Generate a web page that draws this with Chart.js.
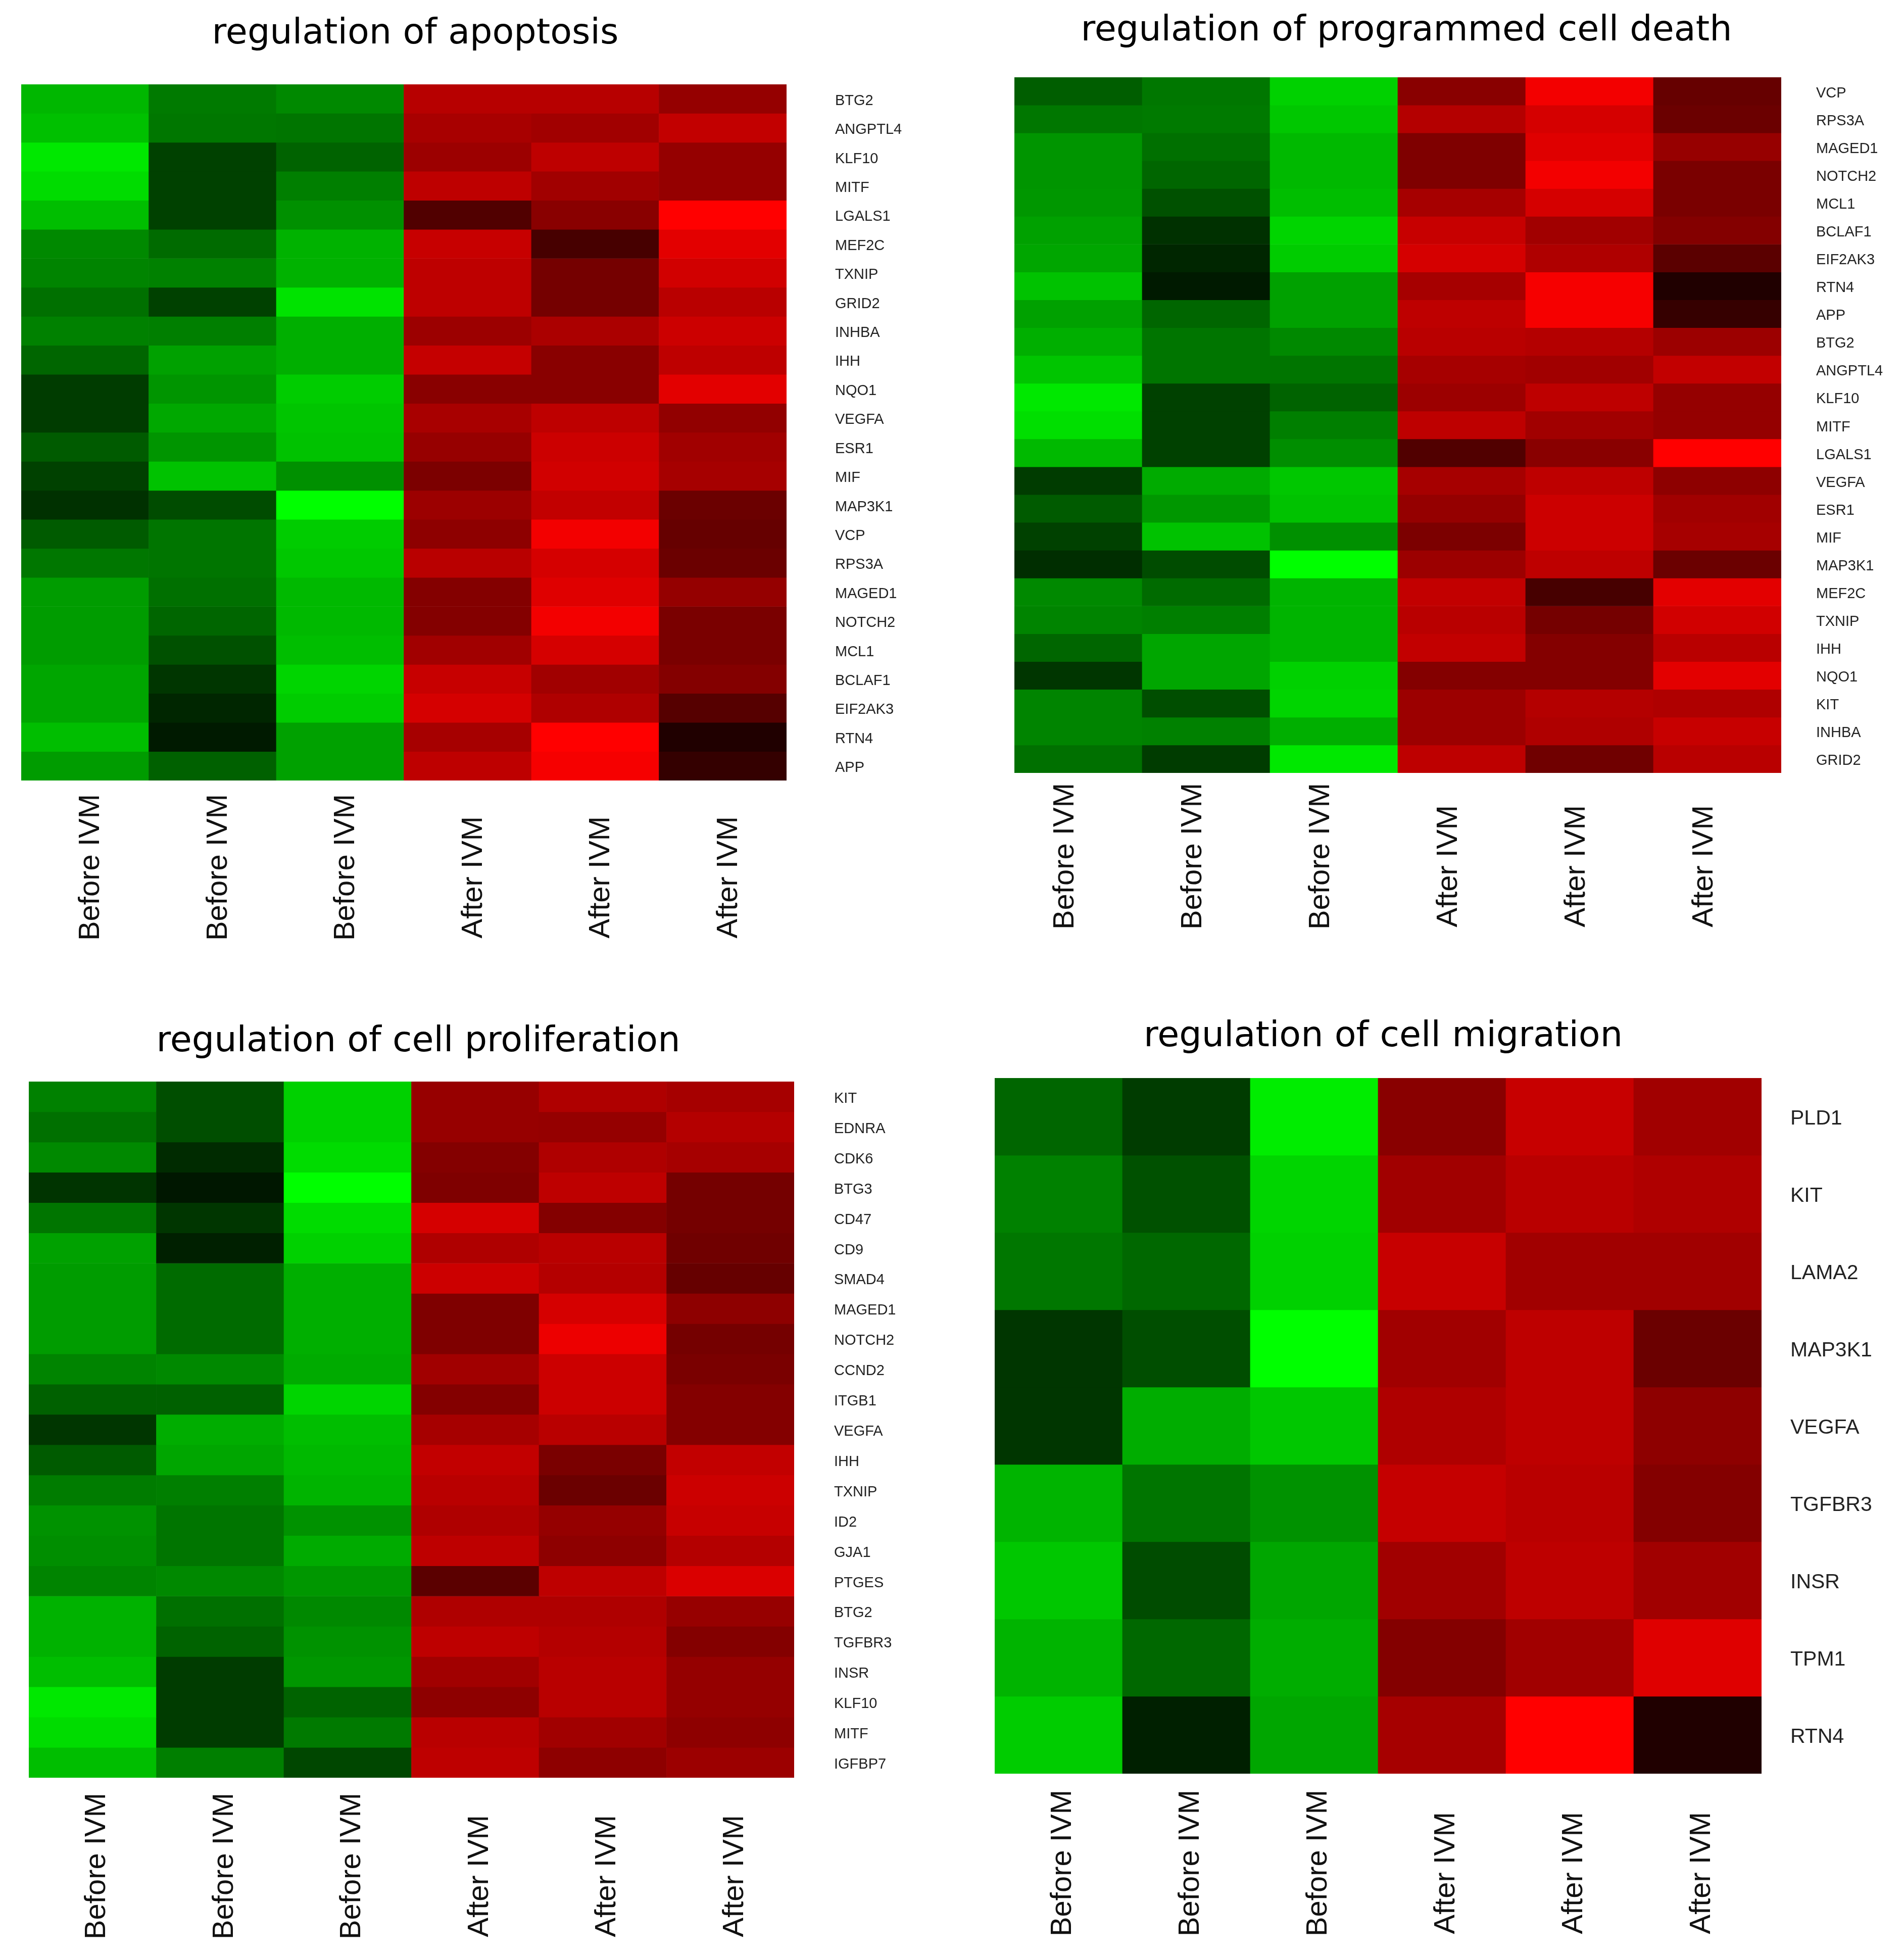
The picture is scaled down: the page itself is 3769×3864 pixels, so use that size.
<!DOCTYPE html>
<html>
<head>
<meta charset="utf-8">
<title>IVM heatmaps</title>
<script src="https://cdn.jsdelivr.net/npm/chart.js@4/dist/chart.umd.min.js"></script>
<style>
    html, body { margin: 0; padding: 0; background: #fff; overflow: hidden; }
    #page { position: relative; width: 3769px; height: 3864px; background: #fff; }
    canvas { position: absolute; }
</style>
</head>
<body>
<div id="page">
    <canvas id="chartApoptosis"></canvas>
    <canvas id="chartDeath"></canvas>
    <canvas id="chartProlif"></canvas>
    <canvas id="chartMigration"></canvas>
</div>
<script>
const samples = ['Before IVM', 'Before IVM', 'Before IVM', 'After IVM', 'After IVM', 'After IVM'];

const apoptosisGenes = ['BTG2', 'ANGPTL4', 'KLF10', 'MITF', 'LGALS1', 'MEF2C', 'TXNIP', 'GRID2', 'INHBA', 'IHH', 'NQO1', 'VEGFA', 'ESR1', 'MIF', 'MAP3K1', 'VCP', 'RPS3A', 'MAGED1', 'NOTCH2', 'MCL1', 'BCLAF1', 'EIF2AK3', 'RTN4', 'APP'];
const apoptosisValues = [
    [-.69, -.44, -.50, .69, .69, .55],
    [-.73, -.43, -.42, .63, .60, .74],
    [-.90, -.22, -.35, .58, .72, .55],
    [-.85, -.22, -.46, .72, .60, .55],
    [-.72, -.22, -.53, .28, .50, 1.0],
    [-.50, -.38, -.67, .76, .24, .88],
    [-.48, -.47, -.67, .72, .42, .80],
    [-.40, -.22, -.88, .72, .42, .70],
    [-.47, -.46, -.66, .58, .64, .78],
    [-.36, -.60, -.66, .75, .50, .72],
    [-.20, -.55, -.78, .50, .50, .88],
    [-.20, -.63, -.75, .63, .72, .54],
    [-.32, -.55, -.74, .56, .78, .60],
    [-.22, -.74, -.53, .45, .80, .62],
    [-.16, -.26, -1.0, .58, .74, .38],
    [-.32, -.42, -.78, .52, .95, .36],
    [-.43, -.42, -.76, .70, .82, .38],
    [-.58, -.40, -.70, .48, .86, .55],
    [-.58, -.36, -.70, .48, .95, .44],
    [-.58, -.28, -.72, .60, .82, .44],
    [-.62, -.18, -.82, .76, .60, .48],
    [-.62, -.12, -.78, .82, .66, .30],
    [-.72, -.08, -.60, .62, 1.0, .10],
    [-.58, -.34, -.60, .72, .96, .17]
];

const deathGenes = ['VCP', 'RPS3A', 'MAGED1', 'NOTCH2', 'MCL1', 'BCLAF1', 'EIF2AK3', 'RTN4', 'APP', 'BTG2', 'ANGPTL4', 'KLF10', 'MITF', 'LGALS1', 'VEGFA', 'ESR1', 'MIF', 'MAP3K1', 'MEF2C', 'TXNIP', 'IHH', 'NQO1', 'KIT', 'INHBA', 'GRID2'];
const deathValues = [
    [-.33, -.43, -.80, .50, .95, .36],
    [-.43, -.44, -.76, .68, .82, .38],
    [-.55, -.40, -.70, .46, .86, .56],
    [-.55, -.36, -.70, .46, .95, .44],
    [-.56, -.28, -.72, .62, .82, .44],
    [-.60, -.16, -.82, .76, .60, .48],
    [-.62, -.12, -.78, .82, .66, .32],
    [-.74, -.08, -.60, .62, .96, .10],
    [-.60, -.36, -.60, .72, .96, .18],
    [-.66, -.42, -.50, .70, .68, .58],
    [-.75, -.42, -.42, .62, .60, .74],
    [-.90, -.22, -.35, .58, .72, .55],
    [-.86, -.22, -.46, .72, .60, .55],
    [-.70, -.22, -.52, .28, .50, 1.0],
    [-.20, -.64, -.76, .62, .72, .52],
    [-.32, -.56, -.74, .55, .78, .60],
    [-.22, -.74, -.53, .45, .78, .62],
    [-.15, -.26, -1.0, .58, .72, .38],
    [-.50, -.38, -.68, .74, .24, .88],
    [-.48, -.46, -.68, .70, .42, .80],
    [-.36, -.62, -.68, .74, .48, .70],
    [-.18, -.62, -.80, .48, .48, .88],
    [-.48, -.27, -.82, .58, .68, .66],
    [-.48, -.47, -.66, .58, .66, .76],
    [-.40, -.20, -.90, .72, .40, .70]
];

const prolifGenes = ['KIT', 'EDNRA', 'CDK6', 'BTG3', 'CD47', 'CD9', 'SMAD4', 'MAGED1', 'NOTCH2', 'CCND2', 'ITGB1', 'VEGFA', 'IHH', 'TXNIP', 'ID2', 'GJA1', 'PTGES', 'BTG2', 'TGFBR3', 'INSR', 'KLF10', 'MITF', 'IGFBP7'];
const prolifValues = [
    [-.47, -.27, -.80, .56, .66, .62],
    [-.40, -.27, -.80, .56, .55, .68],
    [-.50, -.14, -.85, .48, .66, .62],
    [-.17, -.07, -1.0, .46, .72, .42],
    [-.42, -.18, -.85, .82, .48, .42],
    [-.60, -.10, -.80, .66, .70, .40],
    [-.58, -.38, -.66, .78, .68, .36],
    [-.58, -.38, -.66, .46, .82, .52],
    [-.58, -.38, -.66, .46, .92, .42],
    [-.48, -.50, -.64, .60, .78, .44],
    [-.34, -.34, -.82, .48, .78, .48],
    [-.18, -.65, -.72, .62, .70, .48],
    [-.32, -.62, -.70, .74, .44, .74],
    [-.45, -.46, -.68, .70, .38, .78],
    [-.54, -.42, -.54, .66, .55, .76],
    [-.52, -.42, -.64, .72, .52, .68],
    [-.48, -.50, -.56, .32, .72, .84],
    [-.67, -.40, -.50, .66, .66, .56],
    [-.67, -.35, -.54, .72, .68, .48],
    [-.72, -.20, -.56, .60, .70, .55],
    [-.90, -.20, -.35, .52, .70, .55],
    [-.85, -.20, -.44, .70, .60, .52],
    [-.72, -.46, -.24, .72, .52, .58]
];

const migrationGenes = ['PLD1', 'KIT', 'LAMA2', 'MAP3K1', 'VEGFA', 'TGFBR3', 'INSR', 'TPM1', 'RTN4'];
const migrationValues = [
    [-.36, -.20, -.92, .50, .76, .60],
    [-.47, -.28, -.82, .60, .70, .66],
    [-.43, -.37, -.80, .76, .60, .60],
    [-.18, -.27, -1.0, .60, .72, .38],
    [-.18, -.65, -.76, .66, .72, .52],
    [-.68, -.42, -.54, .75, .70, .48],
    [-.76, -.26, -.62, .60, .72, .60],
    [-.68, -.37, -.65, .48, .60, .86],
    [-.78, -.10, -.62, .62, 1.0, .10]
];

// green - black - red, the dark end of the key is a bit lifted
function cellColor(v) {
    const c = Math.round(Math.pow(Math.abs(v), 0.9) * 255);
    return v < 0 ? 'rgb(0,' + c + ',0)' : 'rgb(' + c + ',0,0)';
}

function drawHeatmap(id, box, title, genes, values) {
    const canvas = document.getElementById(id);
    canvas.style.left = box.left + 'px';
    canvas.style.top = box.top + 'px';
    canvas.width = box.width;
    canvas.height = box.height;

    const plotBottom = box.plotBottom - box.top;
    const titleTop = box.titleY - box.top - 42;

    const datasets = genes.map((gene, r) => ({
        label: gene,
        data: samples.map(() => 1),
        backgroundColor: samples.map((s, c) => cellColor(values[r][c])),
        barPercentage: 1,
        categoryPercentage: 1,
        borderWidth: 0
    }));

    new Chart(canvas, {
        type: 'bar',
        data: { labels: samples, datasets: datasets },
        plugins: [{
            // the titles sit a little right of the heatmap centre
            id: 'titleShift',
            afterLayout(chart) {
                const half = (chart.titleBlock.right - chart.titleBlock.left) / 2;
                chart.titleBlock.left = box.titleX - box.left - half;
                chart.titleBlock.right = box.titleX - box.left + half;
            }
        }],
        options: {
            responsive: false,
            animation: false,
            devicePixelRatio: 1,
            layout: { padding: { left: box.plotLeft - box.left, top: 0, right: 0, bottom: 0 } },
            plugins: {
                legend: { display: false },
                tooltip: { enabled: false },
                title: {
                    display: true,
                    text: title,
                    color: '#000',
                    fullSize: false,
                    font: { family: 'DejaVu Sans', size: 70, weight: 'normal', lineHeight: 1.2 },
                    padding: { top: titleTop, bottom: box.plotTop - box.top - titleTop - 84 }
                }
            },
            scales: {
                x: {
                    stacked: true,
                    grid: { display: false, drawTicks: false },
                    border: { display: false },
                    afterFit(axis) { axis.height = box.height - plotBottom; },
                    ticks: {
                        color: '#111',
                        font: { family: 'Liberation Sans', size: 58 },
                        minRotation: 90,
                        maxRotation: 90,
                        autoSkip: false,
                        padding: box.labelGap,
                        labelOffset: box.labelShift,
                        // rotated labels hang from the axis, pad the short ones so they end lower
                        callback: (value, i) => samples[i].startsWith('After') ? samples[i] + '\u00a0\u00a0\u2009' : samples[i]
                    }
                },
                y: {
                    stacked: true,
                    position: 'right',
                    reverse: true,
                    min: 0,
                    max: genes.length,
                    grid: { display: false, drawTicks: false },
                    border: { display: false },
                    afterFit(axis) { axis.width = box.left + box.width - box.plotRight; },
                    afterBuildTicks(axis) { axis.ticks = genes.map((g, i) => ({ value: i + 0.5 })); },
                    ticks: {
                        color: '#222',
                        font: { family: 'Liberation Sans', size: box.geneFont },
                        autoSkip: false,
                        padding: box.geneGap,
                        labelOffset: 4,
                        callback: (value, i) => genes[i]
                    }
                }
            }
        }
    });
}

drawHeatmap('chartApoptosis',
    { left: 0, top: 0, width: 1850, height: 1920, plotLeft: 42, plotRight: 1557, plotTop: 167, plotBottom: 1545, titleX: 822, titleY: 68, geneFont: 29, geneGap: 96, labelGap: 27, labelShift: 12 },
    'regulation of apoptosis', apoptosisGenes, apoptosisValues);

drawHeatmap('chartDeath',
    { left: 1900, top: 0, width: 1869, height: 1920, plotLeft: 2008, plotRight: 3526, plotTop: 153, plotBottom: 1530, titleX: 2784, titleY: 62, geneFont: 29, geneGap: 69, labelGap: 20, labelShift: -26 },
    'regulation of programmed cell death', deathGenes, deathValues);

drawHeatmap('chartProlif',
    { left: 0, top: 1950, width: 1850, height: 1914, plotLeft: 57, plotRight: 1572, plotTop: 2141, plotBottom: 3519, titleX: 828, titleY: 2063, geneFont: 29, geneGap: 79, labelGap: 30, labelShift: 9 },
    'regulation of cell proliferation', prolifGenes, prolifValues);

drawHeatmap('chartMigration',
    { left: 1900, top: 1950, width: 1869, height: 1914, plotLeft: 1969, plotRight: 3487, plotTop: 2134, plotBottom: 3511, titleX: 2738, titleY: 2053, geneFont: 41, geneGap: 57, labelGap: 32, labelShift: 8 },
    'regulation of cell migration', migrationGenes, migrationValues);
</script>
</body>
</html>
